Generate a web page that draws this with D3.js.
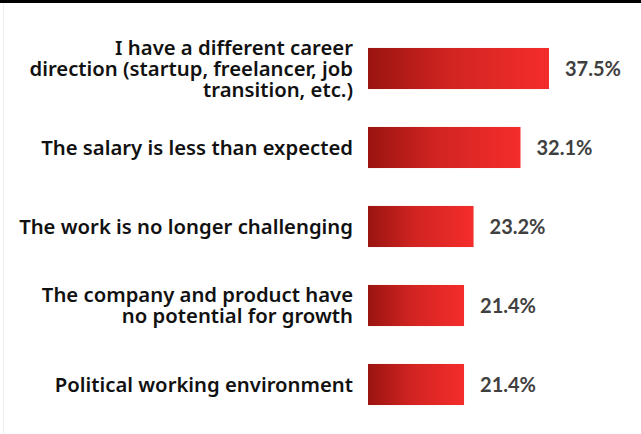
<!DOCTYPE html>
<html>
<head>
<meta charset="utf-8">
<script src="https://cdn.jsdelivr.net/npm/d3@7"></script>
<style>
  body { margin: 0; background: #fff; }
  svg { display: block; }
</style>
</head>
<body>
<script>
// reasons for leaving, share of respondents
const reasons = [
  "I have a different career|direction (startup, freelancer, job|transition, etc.)",
  "The salary is less than expected",
  "The work is no longer challenging",
  "The company and product have|no potential for growth",
  "Political working environment"
]
const shares = [37.5, 32.1, 23.2, 21.4, 21.4]

const dims = { w: 641, h: 434, labelRight: 353, barLeft: 368 }
const labelFont = "Noto Sans, sans-serif"

const svg = d3.select("body")
  .append("svg")
  .attr("width", dims.w)
  .attr("height", dims.h)

const defs = svg.append("defs")
const grad = defs.append("linearGradient")
  .attr("id", "barGrad")
  .attr("x1", "0%").attr("x2", "100%")
  .attr("y1", "0%").attr("y2", "0%")
grad.append("stop").attr("offset", "0%").attr("stop-color", "#9a1410")
grad.append("stop").attr("offset", "45%").attr("stop-color", "#d12421")
grad.append("stop").attr("offset", "100%").attr("stop-color", "#f42d2c")

// frame bits
svg.append("rect").attr("x", 0).attr("y", 0).attr("width", dims.w).attr("height", 3).attr("fill", "#000")
svg.append("line")
  .attr("x1", 3.5).attr("x2", 3.5).attr("y1", 3).attr("y2", dims.h)
  .attr("stroke", "#efefef").attr("stroke-width", 1)

// size the label font so the salary line is as wide as in the source (~312px)
const probe = svg.append("text")
  .attr("font-family", labelFont).attr("font-weight", 600).attr("font-size", 20)
  .text(reasons[1])
const labelSize = 20 * 312 / probe.node().getComputedTextLength()
probe.remove()

const y = d3.scaleBand()
  .domain(reasons)
  .range([29, 424])
  .paddingInner(0.48)
  .paddingOuter(0.24)

const x = d3.scaleLinear()
  .domain([3.2, 37.5])
  .range([dims.barLeft, 549])

const rows = svg.append("g")
  .selectAll("g")
  .data(reasons.map((r, i) => ({ reason: r, share: shares[i] })))
  .enter()
  .append("g")

rows.append("rect")
  .attr("x", dims.barLeft)
  .attr("y", d => y(d.reason))
  .attr("width", d => x(d.share) - dims.barLeft)
  .attr("height", y.bandwidth())
  .attr("fill", "url(#barGrad)")

rows.append("text")
  .attr("x", d => x(d.share) + 16)
  .attr("y", d => y(d.reason) + y.bandwidth() / 2)
  .attr("dy", "0.36em")
  .attr("font-family", "Lato, sans-serif")
  .attr("font-weight", 700)
  .attr("font-size", 20)
  .attr("fill", "#404040")
  .text(d => d.share.toFixed(1) + "%")

const lineH = 21
rows.each(function (d) {
  const lines = d.reason.split("|")
  const mid = y(d.reason) + y.bandwidth() / 2
  const t = d3.select(this).append("text")
    .attr("text-anchor", "end")
    .attr("font-family", labelFont)
    .attr("font-weight", 600)
    .attr("font-size", labelSize)
    .attr("fill", "#111")
  lines.forEach((l, i) => {
    t.append("tspan")
      .attr("x", dims.labelRight)
      .attr("y", mid + (i - (lines.length - 1) / 2) * lineH)
      .attr("dy", "0.36em")
      .text(l)
  })
})
</script>
</body>
</html>
